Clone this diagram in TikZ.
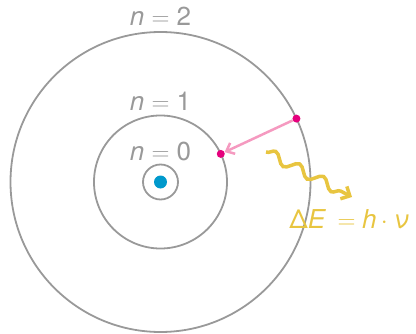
\documentclass[tikz,border=0pt]{standalone}
\usepackage{fontspec}
\setmainfont{TeX Gyre Heros}
\usepackage{tikz}
\usetikzlibrary{arrows.meta,positioning,decorations.pathmorphing}
\definecolor{orbitcol}{RGB}{153,153,153}
\definecolor{nucleuscol}{RGB}{0,153,204}
\definecolor{electroncol}{RGB}{229,0,125}
\definecolor{jumpcol}{RGB}{245,154,192}
\definecolor{photoncol}{RGB}{232,197,64}
\tikzset{
  orbit/.style={circle,draw=orbitcol,line width=1.8pt,inner sep=0pt,outer sep=0pt},
  nucleus/.style={circle,fill=nucleuscol,minimum size=13pt,inner sep=0pt},
  electron/.style={circle,fill=electroncol,minimum size=8pt,inner sep=0pt},
  level label/.style={text=orbitcol,inner sep=0pt,font=\fontsize{26}{30}\selectfont},
  energy label/.style={text=photoncol,inner sep=0pt,font=\fontsize{26}{30}\selectfont},
  jump arrow/.style={draw=jumpcol,line width=2.5pt,-{Straight Barb[length=7pt,width=12pt]}},
  photon/.style={draw=photoncol,line width=3.5pt,-{Straight Barb[length=7pt,width=14pt]},
    decorate,decoration={snake,amplitude=5pt,segment length=27pt,post length=12pt}}
}
\newcommand{\lvl}[1]{\textit{n}\;$=$\;#1}

\begin{document}
\begin{tikzpicture}[x=1pt,y=1pt]
  \useasboundingbox (0,0) rectangle (416,333);
  \coordinate (c) at (160.5,151);
  \node[orbit,minimum size=300pt] (orb2) at (c) {};
  \node[orbit,minimum size=133pt] (orb1) at (c) {};
  \node[orbit,minimum size=35pt] (orb0) at (c) {};
  \node[nucleus] (core) at (c) {};
  \node[level label,above=6pt of orb2.north] (lab2) {\lvl{2}};
  \node[level label,above=5pt of orb1.north] (lab1) {\lvl{1}};
  \node[level label,above=3.5pt of orb0.north] (lab0) {\lvl{0}};
  \node[electron] (e2) at (orb2.25) {};
  \node[electron] (e1) at (orb1.25) {};
  \draw[jump arrow] (e2) -- (e1);
  \coordinate (ph start) at (266,181);
  \coordinate (ph end) at (352,136);
  \draw[photon] (ph start) -- (ph end);
  \node[energy label,below=12pt of ph end,xshift=-3pt] (dE)
    {Δ\textit{E}\hspace{0.45em}$=$\hspace{0.25em}\textit{h}\hspace{0.17em}$\cdot$\hspace{0.22em}\textit{ν}};
\end{tikzpicture}
\end{document}
